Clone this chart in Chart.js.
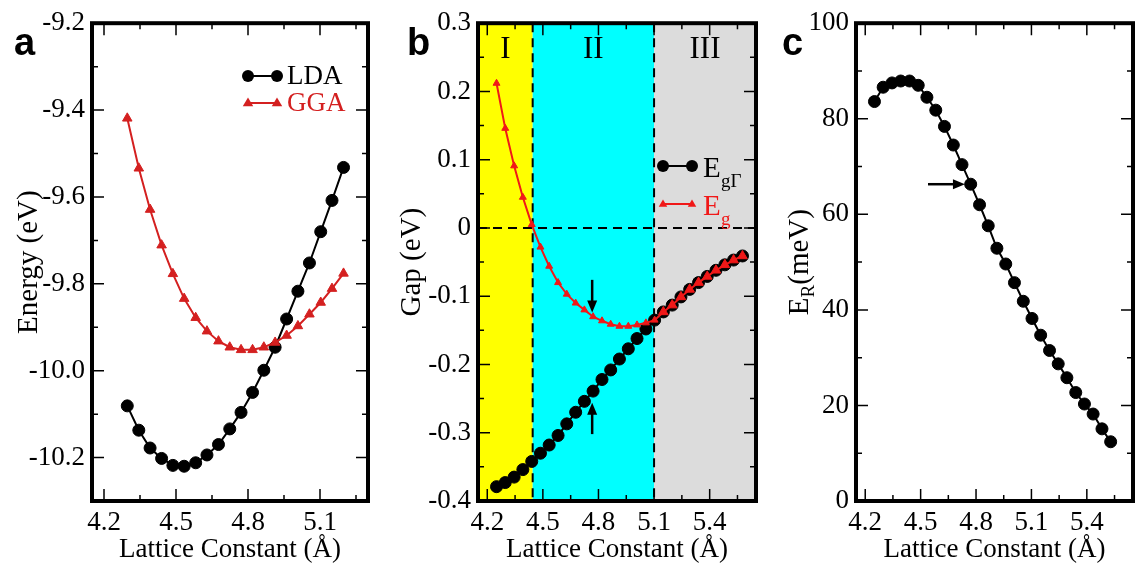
<!DOCTYPE html>
<html>
<head>
<meta charset="utf-8">
<script src="https://cdn.jsdelivr.net/npm/chart.js@4.4.0/dist/chart.umd.min.js"></script>
<style>
  html, body { margin: 0; padding: 0; background: #fff; overflow: hidden; width: 1137px; height: 567px; position: relative; }
  canvas { position: absolute; top: 0; }
</style>
</head>
<body>
<canvas id="chartA" width="380" height="567" style="left:0px"></canvas>
<canvas id="chartB" width="390" height="567" style="left:380px"></canvas>
<canvas id="chartC" width="370" height="567" style="left:770px"></canvas>
<script>
// lattice constants (Å) used by all three panels
const lattice = [4.250, 4.297, 4.345, 4.392, 4.440, 4.487, 4.534, 4.582, 4.629, 4.677,
  4.724, 4.771, 4.819, 4.866, 4.913, 4.961, 5.008, 5.056, 5.103, 5.150,
  5.198, 5.245, 5.292, 5.340, 5.387, 5.434, 5.482, 5.529, 5.577];

// panel a : total energy (eV), 20 points from lattice[1]
const ldaEnergy = [-10.081, -10.137, -10.178, -10.202, -10.218, -10.220, -10.212, -10.194, -10.170, -10.134,
  -10.096, -10.050, -9.999, -9.946, -9.881, -9.817, -9.752, -9.680, -9.608, -9.532];
const ggaEnergy = [-9.419, -9.534, -9.629, -9.711, -9.777, -9.834, -9.878, -9.909, -9.932, -9.946,
  -9.952, -9.952, -9.946, -9.935, -9.919, -9.897, -9.870, -9.843, -9.811, -9.776];

// panel b : gaps (eV)
const gapGamma = [-0.379, -0.373, -0.365, -0.354, -0.342, -0.330, -0.318, -0.304, -0.287, -0.270,
  -0.254, -0.239, -0.222, -0.208, -0.192, -0.177, -0.162, -0.148, -0.135, -0.123,
  -0.113, -0.101, -0.090, -0.080, -0.071, -0.062, -0.054, -0.047, -0.041];
const gapMin = [0.212, 0.146, 0.091, 0.045, 0.005, -0.028, -0.056, -0.080, -0.097, -0.110,
  -0.120, -0.130, -0.136, -0.141, -0.144, -0.144, -0.142, -0.139, -0.135, -0.123,
  -0.113, -0.101, -0.090, -0.080, -0.071, -0.062, -0.054, -0.047, -0.041];
const boundaries = [4.445, 5.1];
const regionNames = ['I', 'II', 'III'];

// panel c : Rashba energy (meV), 28 points
const rashbaEnergy = [83.6, 86.6, 87.5, 87.9, 87.9, 87.0, 84.5, 81.8, 78.4, 74.5,
  70.4, 66.3, 62.0, 57.6, 52.9, 49.6, 45.7, 41.8, 38.2, 34.7,
  31.5, 28.7, 25.8, 22.7, 20.3, 18.2, 15.1, 12.4];

// tick values
const ticksXa = [4.2, 4.5, 4.8, 5.1];
const minorXa = [4.35, 4.65, 4.95, 5.25];
const ticksX = [4.2, 4.5, 4.8, 5.1, 5.4];
const minorX = [4.35, 4.65, 4.95, 5.25, 5.55];
const ticksYa = [-10.2, -10.0, -9.8, -9.6, -9.4, -9.2];
const minorYa = [-10.1, -9.9, -9.7, -9.5, -9.3];
const ticksYb = [-0.4, -0.3, -0.2, -0.1, 0, 0.1, 0.2, 0.3];
const minorYb = [-0.35, -0.25, -0.15, -0.05, 0.05, 0.15, 0.25];
const ticksYc = [0, 20, 40, 60, 80, 100];
const minorYc = [10, 30, 50, 70, 90];

const serif = 'Liberation Serif';
const sans = 'Liberation Sans';
const redA = '#d42020';
const redB = '#f01818';

Chart.defaults.font.family = serif;
Chart.defaults.color = '#000';

const pts = (xs, ys) => ys.map((y, i) => ({ x: xs[i], y }));

function arrow(ctx, x1, y1, x2, y2) {
  const ang = Math.atan2(y2 - y1, x2 - x1), h = 12, w = 5;
  const c = Math.cos(ang), s = Math.sin(ang);
  ctx.beginPath();
  ctx.moveTo(x1, y1);
  ctx.lineTo(x2 - h * 0.8 * c, y2 - h * 0.8 * s);
  ctx.lineWidth = 2.5;
  ctx.stroke();
  ctx.beginPath();
  ctx.moveTo(x2, y2);
  ctx.lineTo(x2 - h * c + w * s, y2 - h * s - w * c);
  ctx.lineTo(x2 - h * c - w * s, y2 - h * s + w * c);
  ctx.closePath();
  ctx.fill();
}

function dot(ctx, x, y, r) {
  ctx.beginPath(); ctx.arc(x, y, r, 0, Math.PI * 2); ctx.fill();
}
function tri(ctx, x, y, r) {
  ctx.beginPath();
  ctx.moveTo(x, y - r); ctx.lineTo(x + r * 0.95, y + r * 0.6); ctx.lineTo(x - r * 0.95, y + r * 0.6);
  ctx.closePath(); ctx.fill();
}

// frame, inward ticks, titles and extras for one panel
function makeFrame(cfg) {
  return {
    id: 'frame',
    beforeDatasetsDraw(chart) {
      if (cfg.background) cfg.background(chart);
    },
    afterDatasetsDraw(chart) {
      const { ctx, chartArea: a, scales: { x, y } } = chart;
      ctx.save();
      ctx.strokeStyle = '#000';
      ctx.lineWidth = 1.5;
      ctx.beginPath();
      cfg.xMajor.map(v => [v, 12]).concat(cfg.xMinor.map(v => [v, 6])).forEach(([v, len]) => {
        const px = x.getPixelForValue(v);
        ctx.moveTo(px, a.bottom); ctx.lineTo(px, a.bottom - len);
        ctx.moveTo(px, a.top); ctx.lineTo(px, a.top + len);
      });
      cfg.yMajor.map(v => [v, 12]).concat(cfg.yMinor.map(v => [v, 6])).forEach(([v, len]) => {
        const py = y.getPixelForValue(v);
        ctx.moveTo(a.left, py); ctx.lineTo(a.left + len, py);
        ctx.moveTo(a.right, py); ctx.lineTo(a.right - len, py);
      });
      ctx.stroke();
      ctx.lineWidth = 4;
      ctx.strokeRect(a.left, a.top, a.right - a.left, a.bottom - a.top);
      ctx.restore();
    },
    afterDraw(chart) {
      const { ctx, chartArea: a } = chart;
      ctx.save();
      ctx.fillStyle = '#000';
      ctx.font = '27px ' + serif;
      ctx.textAlign = 'center';
      ctx.textBaseline = 'middle';
      ctx.fillText('Lattice Constant (Å)', (a.left + a.right) / 2, 550);
      // y title
      ctx.save();
      ctx.translate(cfg.yTitleX, (a.top + a.bottom) / 2);
      ctx.rotate(-Math.PI / 2);
      if (cfg.yTitle) {
        ctx.font = '29px ' + serif;
        ctx.fillText(cfg.yTitle, 0, 0);
      } else {
        ctx.textAlign = 'left';
        const big = '29px ' + serif, small = '19px ' + serif;
        ctx.font = big; const wE = ctx.measureText('E').width; const wT = ctx.measureText('(meV)').width;
        ctx.font = small; const wR = ctx.measureText('R').width;
        let sx = -(wE + wR + wT) / 2;
        ctx.font = big; ctx.fillText('E', sx, 0);
        ctx.font = small; ctx.fillText('R', sx + wE, 9);
        ctx.font = big; ctx.fillText('(meV)', sx + wE + wR, 0);
      }
      ctx.restore();
      // panel letter
      ctx.font = 'bold 38px ' + sans;
      ctx.textAlign = 'left';
      ctx.textBaseline = 'alphabetic';
      ctx.fillText(cfg.letter, cfg.letterX, 55);
      if (cfg.extra) cfg.extra(chart);
      ctx.restore();
    }
  };
}

function scalesFor(xTicks, yRange, yTicks, yFmt, leftW) {
  const tickFont = { family: serif, size: 27 };
  const noGrid = { display: false, drawTicks: false, tickLength: 0 };
  return {
    x: {
      type: 'linear', min: 4.15, max: xTicks === ticksXa ? 5.3 : 5.65,
      afterFit: s => { s.height = 66; },
      afterBuildTicks: s => { s.ticks = xTicks.map(v => ({ value: v })); },
      grid: noGrid, border: { display: false },
      ticks: { color: '#000', font: tickFont, padding: 6, maxRotation: 0, autoSkip: false,
        callback: v => v.toFixed(1) }
    },
    y: {
      type: 'linear', min: yRange[0], max: yRange[1],
      afterFit: s => { s.width = leftW; },
      afterBuildTicks: s => { s.ticks = yTicks.map(v => ({ value: v })); },
      grid: noGrid, border: { display: false },
      ticks: { color: '#000', font: tickFont, padding: 7, autoSkip: false, callback: yFmt }
    }
  };
}

function build(id, datasets, scales, padding, cfg) {
  return new Chart(document.getElementById(id), {
    type: 'scatter',
    data: { datasets },
    options: {
      responsive: false, animation: false,
      layout: { padding },
      scales,
      plugins: { legend: { display: false }, tooltip: { enabled: false } }
    },
    plugins: [makeFrame(cfg)]
  });
}

// ---- panel a ----
build('chartA', [
  { data: pts(lattice.slice(1, 21), ggaEnergy), showLine: true, borderColor: redA, borderWidth: 2,
    pointStyle: 'triangle', pointRadius: 5.5, pointBackgroundColor: redA, pointBorderColor: redA, pointBorderWidth: 1 },
  { data: pts(lattice.slice(1, 21), ldaEnergy), showLine: true, borderColor: '#000', borderWidth: 2,
    pointStyle: 'circle', pointRadius: 6, pointBackgroundColor: '#000', pointBorderColor: '#000', pointBorderWidth: 1 }
], scalesFor(ticksXa, [-10.3, -9.2], ticksYa, v => v.toFixed(1), 92), { left: 0, top: 15, right: 12, bottom: 0 }, {
  xMajor: ticksXa, xMinor: minorXa, yMajor: ticksYa, yMinor: minorYa,
  yTitle: 'Energy (eV)', yTitleX: 29, letter: 'a', letterX: 14,
  extra(chart) {
    const ctx = chart.ctx;
    ctx.lineWidth = 2;
    ctx.strokeStyle = '#000'; ctx.fillStyle = '#000';
    ctx.beginPath(); ctx.moveTo(248, 76); ctx.lineTo(277, 76); ctx.stroke();
    dot(ctx, 248, 76, 6); dot(ctx, 277, 76, 6);
    ctx.font = '27px ' + serif; ctx.textBaseline = 'middle';
    ctx.fillText('LDA', 287, 77);
    ctx.strokeStyle = redA; ctx.fillStyle = redA;
    ctx.beginPath(); ctx.moveTo(248, 103); ctx.lineTo(277, 103); ctx.stroke();
    tri(ctx, 248, 103, 5.5); tri(ctx, 277, 103, 5.5);
    ctx.fillText('GGA', 287, 104);
  }
});

// ---- panel b ---- (first dataset is drawn on top)
build('chartB', [
  { data: pts(lattice, gapMin), showLine: true, borderColor: redB, borderWidth: 2,
    pointStyle: 'triangle', pointBackgroundColor: redB, pointBorderColor: redB, pointBorderWidth: 1,
    pointRadius: c => (c.raw && c.raw.x > boundaries[1] + 0.01 ? 5.5 : 4) },
  { data: pts(lattice, gapGamma), showLine: true, borderColor: '#000', borderWidth: 2,
    pointStyle: 'circle', pointRadius: 6, pointBackgroundColor: '#000', pointBorderColor: '#000', pointBorderWidth: 1 }
], scalesFor(ticksX, [-0.4, 0.3], ticksYb, v => (v === 0 ? '0' : v.toFixed(1)), 98), { left: 0, top: 15, right: 14, bottom: 0 }, {
  xMajor: ticksX, xMinor: minorX, yMajor: ticksYb, yMinor: minorYb,
  yTitle: 'Gap (eV)', yTitleX: 32, letter: 'b', letterX: 27,
  background(chart) {
    const { ctx, chartArea: a, scales: { x, y } } = chart;
    const b1 = x.getPixelForValue(boundaries[0]), b2 = x.getPixelForValue(boundaries[1]);
    ctx.save();
    ctx.fillStyle = '#ffff00'; ctx.fillRect(a.left, a.top, b1 - a.left, a.bottom - a.top);
    ctx.fillStyle = '#00ffff'; ctx.fillRect(b1, a.top, b2 - b1, a.bottom - a.top);
    ctx.fillStyle = '#dcdcdc'; ctx.fillRect(b2, a.top, a.right - b2, a.bottom - a.top);
    ctx.strokeStyle = '#000'; ctx.lineWidth = 2; ctx.setLineDash([9, 6]);
    ctx.beginPath();
    ctx.moveTo(b1, a.top); ctx.lineTo(b1, a.bottom);
    ctx.moveTo(b2, a.top); ctx.lineTo(b2, a.bottom);
    const y0 = y.getPixelForValue(0);
    ctx.moveTo(a.left, y0); ctx.lineTo(a.right, y0);
    ctx.stroke();
    ctx.restore();
  },
  extra(chart) {
    const { ctx, scales: { x, y } } = chart;
    const edges = [4.15, boundaries[0], boundaries[1], 5.65];
    ctx.font = '31px ' + serif; ctx.textAlign = 'center'; ctx.textBaseline = 'middle'; ctx.fillStyle = '#000';
    regionNames.forEach((n, i) => {
      ctx.fillText(n, x.getPixelForValue((edges[i] + edges[i + 1]) / 2), 50);
    });
    // arrows
    ctx.strokeStyle = '#000'; ctx.fillStyle = '#000';
    const ax = x.getPixelForValue(4.766);
    arrow(ctx, ax, y.getPixelForValue(-0.076), ax, y.getPixelForValue(-0.124));
    arrow(ctx, ax, y.getPixelForValue(-0.302), ax, y.getPixelForValue(-0.256));
    // legend
    ctx.lineWidth = 2;
    ctx.beginPath(); ctx.moveTo(283, 166); ctx.lineTo(312, 166); ctx.stroke();
    dot(ctx, 283, 166, 6); dot(ctx, 312, 166, 6);
    ctx.textAlign = 'left'; ctx.textBaseline = 'alphabetic';
    ctx.font = '29px ' + serif; ctx.fillText('E', 323, 177);
    ctx.font = '19px ' + serif; ctx.fillText('gΓ', 341, 187);
    ctx.strokeStyle = redB; ctx.fillStyle = redB;
    ctx.beginPath(); ctx.moveTo(283, 204); ctx.lineTo(312, 204); ctx.stroke();
    tri(ctx, 283, 204, 4.5); tri(ctx, 312, 204, 4.5);
    ctx.font = '29px ' + serif; ctx.fillText('E', 323, 215);
    ctx.font = '19px ' + serif; ctx.fillText('g', 341, 225);
  }
});

// ---- panel c ----
build('chartC', [
  { data: pts(lattice, rashbaEnergy), showLine: true, borderColor: '#000', borderWidth: 2,
    pointStyle: 'circle', pointRadius: 6, pointBackgroundColor: '#000', pointBorderColor: '#000', pointBorderWidth: 1 }
], scalesFor(ticksX, [0, 100], ticksYc, v => String(v), 86), { left: 0, top: 17, right: 3, bottom: 0 }, {
  xMajor: ticksX, xMinor: minorX, yMajor: ticksYc, yMinor: minorYc,
  yTitle: null, yTitleX: 30, letter: 'c', letterX: 12,
  extra(chart) {
    const { ctx, scales: { x, y } } = chart;
    ctx.strokeStyle = '#000'; ctx.fillStyle = '#000';
    arrow(ctx, x.getPixelForValue(4.54), y.getPixelForValue(66.3), x.getPixelForValue(4.74), y.getPixelForValue(66.3));
  }
});
</script>
</body>
</html>
